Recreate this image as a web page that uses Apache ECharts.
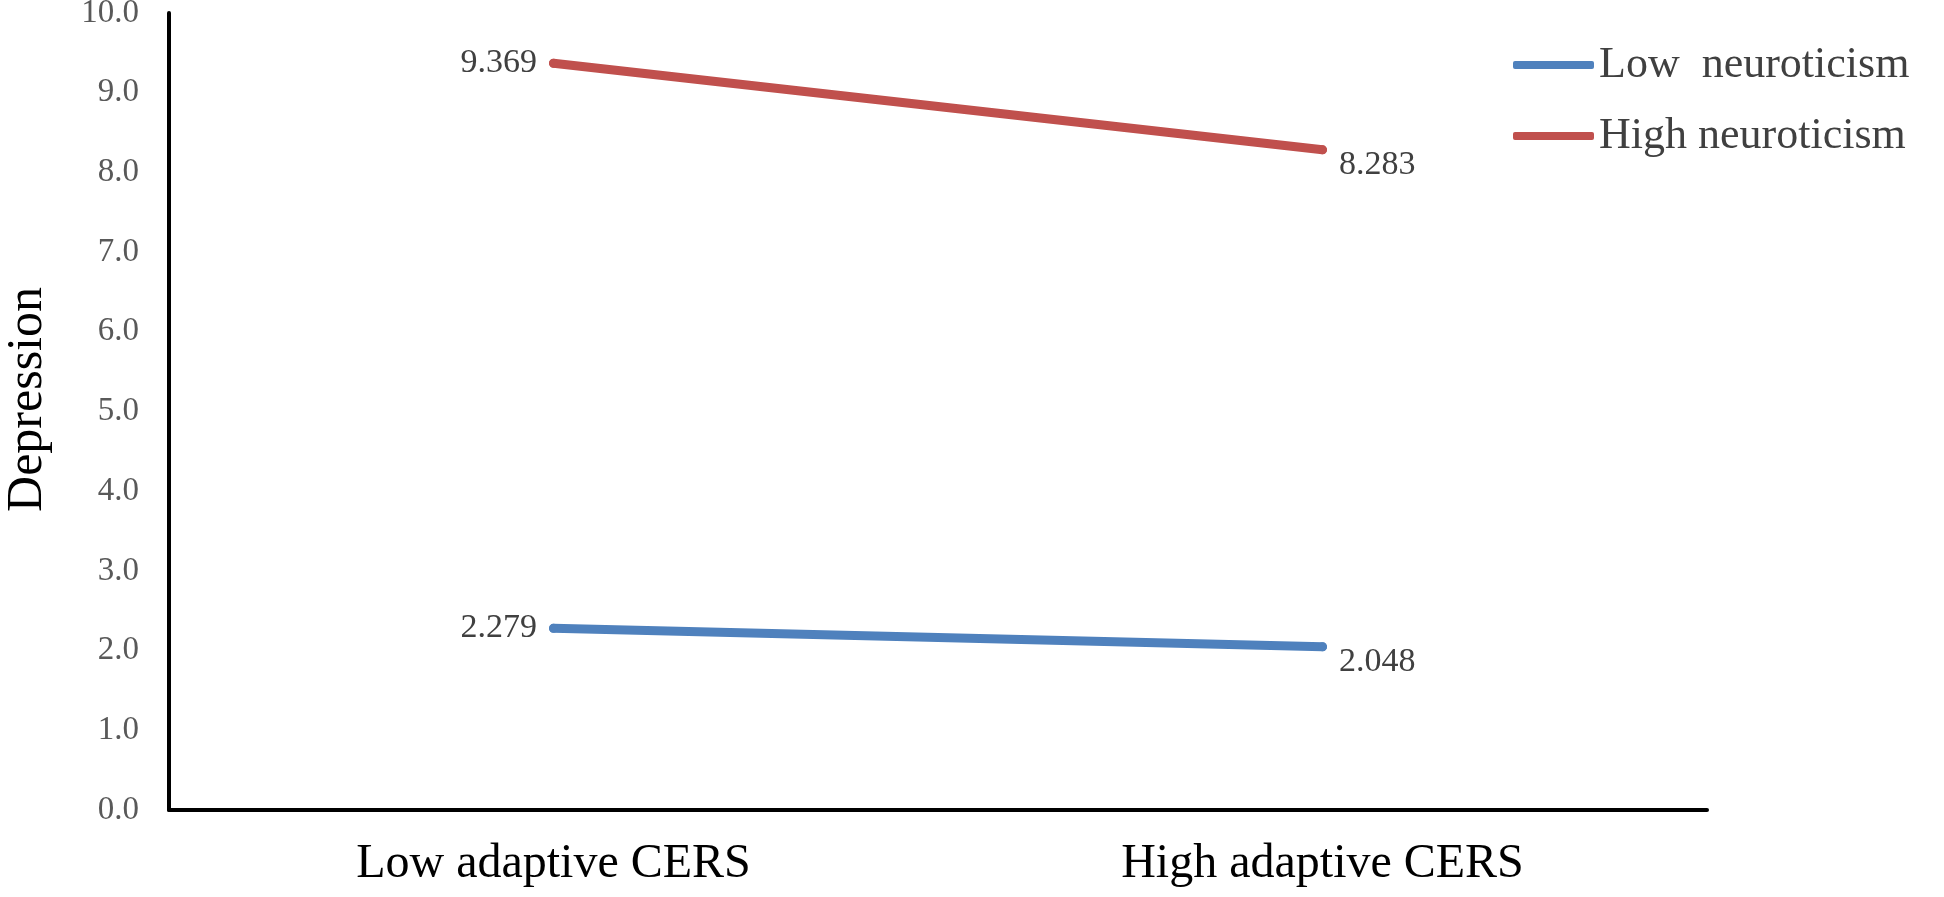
<!DOCTYPE html>
<html>
<head>
<meta charset="utf-8">
<script src="https://cdn.jsdelivr.net/npm/echarts@6/dist/echarts.min.js"></script>
<style>
html,body{margin:0;padding:0;background:#fff;}
#chart{width:1944px;height:897px;}
</style>
</head>
<body>
<div id="chart"></div>
<script>
const categories = ['Low adaptive CERS', 'High adaptive CERS'];
const lowNeuroticism = [2.279, 2.048];
const highNeuroticism = [9.369, 8.283];
const seriesNames = ['Low  neuroticism', 'High neuroticism'];
const yTicks = { min: 0, max: 10, interval: 1 };

const FONT = '"Liberation Serif", "Times New Roman", serif';

function withLabels(values) {
  return values.map((v, i) => ({
    value: v,
    label: i === 0
      ? { position: 'left', distance: 12, offset: [0, 0] }
      : { position: 'right', distance: 12, offset: [0, 15] }
  }));
}

const chart = echarts.init(document.getElementById('chart'), null, { renderer: 'canvas' });
chart.setOption({
  animation: false,
  backgroundColor: '#ffffff',
  grid: { left: 169, right: 237, top: 13, bottom: 87, containLabel: false, outerBoundsMode: 'none' },
  legend: {
    orient: 'vertical',
    left: 1508,
    top: 38,
    itemWidth: 81,
    itemHeight: 8,
    itemGap: 27,
    icon: 'roundRect',
    textStyle: { fontFamily: FONT, fontSize: 44, color: '#404040' },
    data: seriesNames
  },
  xAxis: {
    type: 'category',
    data: categories,
    boundaryGap: true,
    axisLine: { show: true, lineStyle: { color: '#000', width: 4 } },
    axisTick: { show: false },
    splitLine: { show: false },
    axisLabel: { fontFamily: FONT, fontSize: 48, color: '#000', margin: 30 }
  },
  yAxis: {
    type: 'value',
    min: yTicks.min,
    max: yTicks.max,
    interval: yTicks.interval,
    name: 'Depression',
    nameLocation: 'middle',
    nameRotate: 90,
    nameGap: 116,
    nameTextStyle: { fontFamily: FONT, fontSize: 50, color: '#000', padding: [0, 0, 0, 24] },
    axisLine: { show: true, lineStyle: { color: '#000', width: 4 } },
    axisTick: { show: false },
    splitLine: { show: false },
    axisLabel: {
      fontFamily: FONT, fontSize: 33, color: '#595959', margin: 30,
      formatter: v => v.toFixed(1)
    }
  },
  series: [
    {
      name: seriesNames[0],
      type: 'line',
      data: withLabels(lowNeuroticism),
      symbol: 'circle',
      symbolSize: 9,
      lineStyle: { color: '#4F81BD', width: 9, cap: 'round' },
      itemStyle: { color: '#4F81BD' },
      label: { show: true, fontFamily: FONT, fontSize: 34, color: '#404040', formatter: p => p.value.toFixed(3) }
    },
    {
      name: seriesNames[1],
      type: 'line',
      data: withLabels(highNeuroticism),
      symbol: 'circle',
      symbolSize: 9,
      lineStyle: { color: '#C0504D', width: 9, cap: 'round' },
      itemStyle: { color: '#C0504D' },
      label: { show: true, fontFamily: FONT, fontSize: 34, color: '#404040', formatter: p => p.value.toFixed(3) }
    }
  ]
});
</script>
</body>
</html>
